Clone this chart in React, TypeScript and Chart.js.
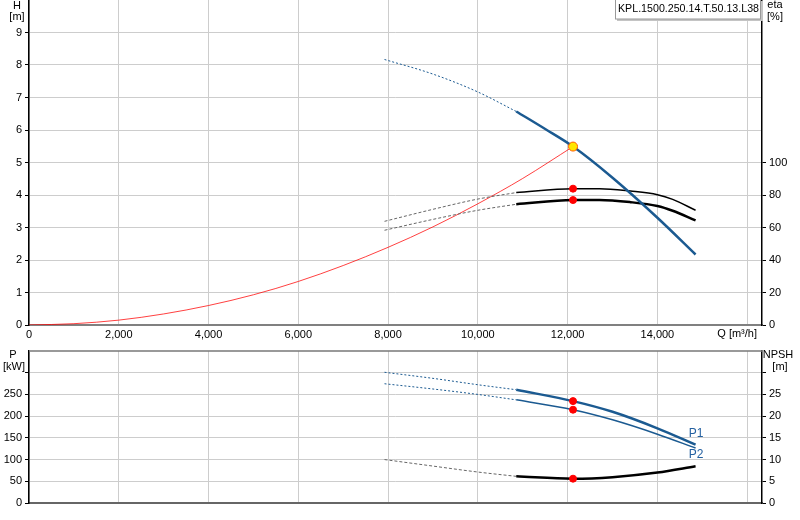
import { useEffect, useRef } from 'react'
import { Chart, registerables } from 'chart.js'

Chart.register(...registerables)

const FAMILY = "'Liberation Sans', Arial, sans-serif"

// tick values
const qTicks = [0, 2000, 4000, 6000, 8000, 10000, 12000, 14000, 16000]
const hTicks = [0, 1, 2, 3, 4, 5, 6, 7, 8, 9]
const etaTicks = [0, 20, 40, 60, 80, 100]
const pTicks = [0, 50, 100, 150, 200, 250, 300]
const npshTicks = [0, 5, 10, 15, 20, 25, 30]

// pump head H [m] over flow Q [m³/h]
const headDashedQ = [7920, 9000, 10000, 10855]
const headDashedH = [8.17, 7.72, 7.17, 6.57]
const headSolidQ = [10855, 11500, 12120, 13000, 14000, 14850]
const headSolidH = [6.57, 6.03, 5.49, 4.53, 3.3, 2.17]

// system curve
const sysQ = [0, 1000, 2000, 3000, 4000, 5000, 6000, 7000, 8000, 9000, 10000, 11000, 12120]
const sysH = [0, 0.04, 0.15, 0.34, 0.6, 0.93, 1.34, 1.83, 2.39, 3.02, 3.73, 4.51, 5.49]

// efficiencies [%]
const etaDashedQ = [7920, 9000, 10000, 10855]
const eta1Dashed = [63.8, 71.2, 77.5, 81.5]
const eta2Dashed = [58.3, 65.0, 70.6, 74.3]
const etaSolidQ = [10855, 12120, 12710, 13400, 14000, 14340, 14850]
const eta1Solid = [81.5, 83.9, 83.9, 82.4, 80.2, 77.3, 70.6]
const eta2Solid = [74.3, 76.9, 77.0, 75.6, 73.2, 70.3, 64.4]

// power [kW] and NPSH [m]
const lowDashedQ = [7920, 9000, 10000, 10855]
const p1Dashed = [301, 287, 272.3, 260.8]
const p2Dashed = [274.6, 262.5, 250, 237.5]
const npshDashed = [10.0, 8.5, 7.13, 6.14]
const lowSolidQ = [10855, 12120, 13000, 14000, 14850]
const p1Solid = [260.8, 234.6, 210, 172, 134.3]
const p2Solid = [237.5, 214.8, 191.6, 158.5, 126.5]
const npshSolid = [6.14, 5.6, 5.95, 7.0, 8.44]

// duty point
const dutyQ = 12120
const dutyH = 5.49
const dutyEta1 = 83.9
const dutyEta2 = 76.9
const dutyP1 = 234.6
const dutyP2 = 214.8
const dutyNpsh = 5.6

const Q_MAX = 16330
const BLUE = '#1b5a91'
const GRID = '#cdcdcd'

const pts = (xs: number[], ys: number[]) => xs.map((x, i) => ({ x, y: ys[i] }))

function line(data: { x: number; y: number }[], color: string, width: number, yAxisID: string, dash: number[] = []) {
  return {
    type: 'line' as const,
    data,
    yAxisID,
    borderColor: color,
    borderWidth: width,
    borderDash: dash,
    pointRadius: 0,
    fill: false,
    cubicInterpolationMode: 'monotone' as const,
  }
}

function marker(x: number, y: number, yAxisID: string, fill: string, border: string, r: number) {
  return {
    type: 'line' as const,
    data: [{ x, y }],
    yAxisID,
    showLine: false,
    pointRadius: r,
    pointBackgroundColor: fill,
    pointBorderColor: border,
    pointBorderWidth: 1,
  }
}

const xScale = (labels: boolean, height: number) => ({
  type: 'linear' as const,
  min: 0,
  max: Q_MAX,
  afterBuildTicks: (s: any) => {
    s.ticks = qTicks.map(value => ({ value }))
  },
  afterFit: (s: any) => {
    s.height = height
    s.paddingLeft = 0
    s.paddingRight = 0
  },
  ticks: {
    display: labels,
    padding: 3,
    color: '#000',
    font: { family: FAMILY, size: 11 },
    maxRotation: 0,
    autoSkip: false,
    callback: (v: any) => (v >= 16000 ? '' : Number(v).toLocaleString('en-US')),
  },
  grid: { color: GRID, lineWidth: 1, drawTicks: false },
  border: { color: '#808080', width: 2 },
})

const yScale = (
  position: 'left' | 'right',
  max: number,
  tickValues: number[],
  hideLabelAt: number | null,
  width: number,
  drawGrid: boolean,
) => ({
  type: 'linear' as const,
  position,
  min: 0,
  max,
  afterBuildTicks: (s: any) => {
    s.ticks = tickValues.map(value => ({ value }))
  },
  afterFit: (s: any) => {
    s.width = width
    s.paddingTop = 0
    s.paddingBottom = 0
  },
  ticks: {
    padding: 3,
    color: '#000',
    font: { family: FAMILY, size: 11 },
    autoSkip: false,
    callback: (v: any) => (hideLabelAt !== null && v === hideLabelAt ? '' : String(v)),
  },
  grid: {
    color: GRID,
    lineWidth: 1,
    drawOnChartArea: drawGrid,
    drawTicks: true,
    tickLength: 4,
    tickColor: '#000',
  },
  border: { color: '#000', width: 1.5 },
})

const topText = {
  id: 'topText',
  afterDraw(chart: any) {
    const ctx = chart.ctx as CanvasRenderingContext2D
    ctx.save()
    ctx.font = `11px ${FAMILY}`
    ctx.fillStyle = '#000'
    ctx.textAlign = 'center'
    ctx.textBaseline = 'middle'
    ctx.fillText('H', 17, 6)
    ctx.fillText('[m]', 17, 17)
    ctx.fillText('eta', 775, 5)
    ctx.fillText('[%]', 775, 17)
    ctx.textAlign = 'right'
    ctx.fillText('Q [m³/h]', 757, 334)
    // name box
    ctx.fillStyle = '#c4c4c4'
    ctx.fillRect(617, 1, 146, 20)
    ctx.fillStyle = '#fff'
    ctx.fillRect(615, -1, 146, 20)
    ctx.strokeStyle = '#999'
    ctx.lineWidth = 1
    ctx.strokeRect(615.5, -0.5, 145, 19.5)
    ctx.fillStyle = '#000'
    ctx.textAlign = 'left'
    ctx.fillText('KPL.1500.250.14.T.50.13.L38', 618, 8.5, 141)
    ctx.restore()
  },
}

const bottomText = {
  id: 'bottomText',
  afterDraw(chart: any) {
    const ctx = chart.ctx as CanvasRenderingContext2D
    const a = chart.chartArea
    ctx.save()
    ctx.strokeStyle = '#777'
    ctx.lineWidth = 1.5
    ctx.beginPath()
    ctx.moveTo(a.left, a.top)
    ctx.lineTo(a.right, a.top)
    ctx.stroke()
    ctx.font = `11px ${FAMILY}`
    ctx.fillStyle = '#000'
    ctx.textAlign = 'center'
    ctx.textBaseline = 'middle'
    ctx.fillText('P', 13, 10)
    ctx.fillText('[kW]', 14, 22)
    ctx.fillText('NPSH', 778, 10)
    ctx.fillText('[m]', 780, 22)
    ctx.fillStyle = '#2460a0'
    ctx.font = `12px ${FAMILY}`
    ctx.fillText('P1', 696, 89)
    ctx.fillText('P2', 696, 110)
    ctx.restore()
  },
}

export default function App() {
  const topRef = useRef<HTMLCanvasElement>(null)
  const bottomRef = useRef<HTMLCanvasElement>(null)

  useEffect(() => {
    if (!topRef.current || !bottomRef.current) return

    const top = new Chart(topRef.current, {
      type: 'line',
      data: {
        datasets: [
          marker(dutyQ, dutyH, 'y', '#ffe600', '#ff5a00', 4.5),
          marker(dutyQ, dutyEta1, 'y2', '#ff0000', '#ff0000', 3.5),
          marker(dutyQ, dutyEta2, 'y2', '#ff0000', '#ff0000', 3.5),
          line(pts(headSolidQ, headSolidH), BLUE, 2.5, 'y'),
          line(pts(headDashedQ, headDashedH), BLUE, 1, 'y', [2, 2]),
          line(pts(etaSolidQ, eta1Solid), '#000', 1.5, 'y2'),
          line(pts(etaSolidQ, eta2Solid), '#000', 2.5, 'y2'),
          line(pts(etaDashedQ, eta1Dashed), '#666', 1, 'y2', [3, 2]),
          line(pts(etaDashedQ, eta2Dashed), '#666', 1, 'y2', [3, 2]),
          line(pts(sysQ, sysH), 'rgba(255,0,0,0.75)', 1, 'y'),
        ] as any,
      },
      options: {
        responsive: false,
        animation: false,
        events: [],
        layout: { padding: 0, autoPadding: false },
        plugins: { legend: { display: false }, tooltip: { enabled: false } },
        scales: {
          x: xScale(true, 20),
          y: yScale('left', 10, hTicks, null, 29, true),
          y2: yScale('right', 200, etaTicks, null, 38, false),
        } as any,
      },
      plugins: [topText],
    })

    const bottom = new Chart(bottomRef.current, {
      type: 'line',
      data: {
        datasets: [
          marker(dutyQ, dutyP1, 'y', '#ff0000', '#ff0000', 3.5),
          marker(dutyQ, dutyP2, 'y', '#ff0000', '#ff0000', 3.5),
          marker(dutyQ, dutyNpsh, 'y2', '#ff0000', '#ff0000', 3.5),
          line(pts(lowSolidQ, p1Solid), BLUE, 2.5, 'y'),
          line(pts(lowSolidQ, p2Solid), BLUE, 1.5, 'y'),
          line(pts(lowSolidQ, npshSolid), '#000', 2.5, 'y2'),
          line(pts(lowDashedQ, p1Dashed), BLUE, 1, 'y', [2, 2]),
          line(pts(lowDashedQ, p2Dashed), BLUE, 1, 'y', [2, 2]),
          line(pts(lowDashedQ, npshDashed), '#666', 1, 'y2', [3, 2]),
        ] as any,
      },
      options: {
        responsive: false,
        animation: false,
        events: [],
        layout: { padding: { top: 6 }, autoPadding: false },
        plugins: { legend: { display: false }, tooltip: { enabled: false } },
        scales: {
          x: { ...xScale(false, 17), border: { color: '#666', width: 2 } },
          y: yScale('left', 350, pTicks, 300, 29, true),
          y2: yScale('right', 35, npshTicks, 30, 38, false),
        } as any,
      },
      plugins: [bottomText],
    })

    return () => {
      top.destroy()
      bottom.destroy()
    }
  }, [])

  return (
    <div style={{ position: 'fixed', left: 0, top: 0, width: 800, height: 520, background: '#fff' }}>
      <canvas ref={topRef} width={800} height={345} style={{ position: 'absolute', left: 0, top: 0 }} />
      <canvas ref={bottomRef} width={800} height={175} style={{ position: 'absolute', left: 0, top: 345 }} />
    </div>
  )
}
